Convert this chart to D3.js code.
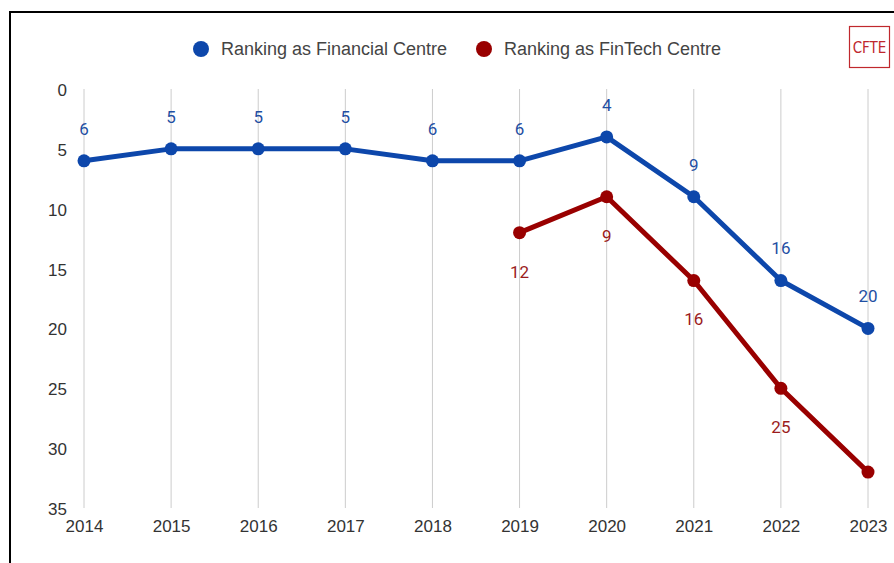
<!DOCTYPE html>
<html><head><meta charset="utf-8">
<script src="https://cdn.jsdelivr.net/npm/d3@7"></script>
<style>body{margin:0;background:#fff}svg{display:block}</style>
</head><body>
<svg id="chart" width="894" height="563"></svg>
<script>
const years = [2014, 2015, 2016, 2017, 2018, 2019, 2020, 2021, 2022, 2023];
const financial = [6, 5, 5, 5, 6, 6, 4, 9, 16, 20];
const fintech = [null, null, null, null, null, 12, 9, 16, 25, 32];
const fintechLabels = [null, null, null, null, null, "12", "9", "16", "25", null];
const yTicks = [0, 5, 10, 15, 20, 25, 30, 35];
const seriesNames = ["Ranking as Financial Centre", "Ranking as FinTech Centre"];
const colors = ["#0d47ab", "#990000"];

const AX_FONT = "'Liberation Sans', Arial, sans-serif";
const svg = d3.select("#chart");
// frame
svg.append("path").attr("d", "M10,563 V12 H894").attr("fill", "none").attr("stroke", "#000").attr("stroke-width", 2);

const x = d3.scalePoint().domain(years).range([84, 868]);
const y = d3.scaleLinear().domain([0, 35]).range([89, 508]);

// vertical gridlines
svg.append("g").selectAll("line").data(years).join("line")
  .attr("x1", d => x(d)).attr("x2", d => x(d)).attr("y1", y(0)).attr("y2", y(35))
  .attr("stroke", "#cccccc").attr("stroke-width", 1);

// y axis labels
const yAxis = d3.axisLeft(y).tickValues(yTicks).tickSize(0).tickPadding(0);
const yg = svg.append("g").attr("transform", "translate(67,1)").call(yAxis);
yg.select(".domain").remove();
yg.selectAll("text").attr("font-family", AX_FONT).attr("font-size", 17).attr("fill", "#333");

// x axis labels
const xAxis = d3.axisBottom(x).tickSize(0).tickPadding(0);
const xg = svg.append("g").attr("transform", "translate(0,520)").call(xAxis);
xg.select(".domain").remove();
xg.selectAll("text").attr("font-family", AX_FONT).attr("font-size", 17).attr("fill", "#333");

function drawSeries(vals, color) {
  const pts = years.map((yr, i) => ({yr, v: vals[i]})).filter(d => d.v != null);
  const line = d3.line().x(d => x(d.yr)).y(d => y(d.v));
  svg.append("path").datum(pts).attr("d", line).attr("fill", "none")
    .attr("stroke", color).attr("stroke-width", 5).attr("stroke-linejoin", "round");
  svg.append("g").selectAll("circle").data(pts).join("circle")
    .attr("cx", d => x(d.yr)).attr("cy", d => y(d.v)).attr("r", 6.5).attr("fill", color);
}
drawSeries(fintech, colors[1]);
drawSeries(financial, colors[0]);

// data labels
svg.append("g").selectAll("text").data(years.map((yr, i) => ({yr, v: financial[i]}))).join("text")
  .attr("x", d => x(d.yr)).attr("y", d => y(d.v) - 32).attr("dy", "0.35em")
  .attr("text-anchor", "middle").attr("font-family", "Roboto, sans-serif").attr("font-size", 17)
  .attr("fill", "#1f4fa3").text(d => d.v);
svg.append("g").selectAll("text").data(years.map((yr, i) => ({yr, v: fintech[i], t: fintechLabels[i]})).filter(d => d.t != null)).join("text")
  .attr("x", d => x(d.yr)).attr("y", d => y(d.v) + 39).attr("dy", "0.35em")
  .attr("text-anchor", "middle").attr("font-family", "Roboto, sans-serif").attr("font-size", 17)
  .attr("fill", "#9b1c1c").text(d => d.t);

// legend
const legendX = [201, 484];
seriesNames.forEach((n, i) => {
  svg.append("circle").attr("cx", legendX[i]).attr("cy", 49).attr("r", 8).attr("fill", colors[i]);
  svg.append("text").attr("x", legendX[i] + 20).attr("y", 49).attr("dy", "0.35em")
    .attr("font-family", AX_FONT).attr("font-size", 18).attr("fill", "#444").text(n);
});

// CFTE logo
svg.append("rect").attr("x", 849.5).attr("y", 26.5).attr("width", 40).attr("height", 41)
  .attr("fill", "#fff").attr("stroke", "#c0282d").attr("stroke-width", 1.2);
svg.append("text").attr("x", 869.5).attr("y", 47.5).attr("dy", "0.35em").attr("text-anchor", "middle")
  .attr("font-family", "'DejaVu Sans Condensed', 'Liberation Sans Narrow', sans-serif").attr("font-size", 15)
  .attr("fill", "#c0282d").text("CFTE");
</script>
</body></html>
